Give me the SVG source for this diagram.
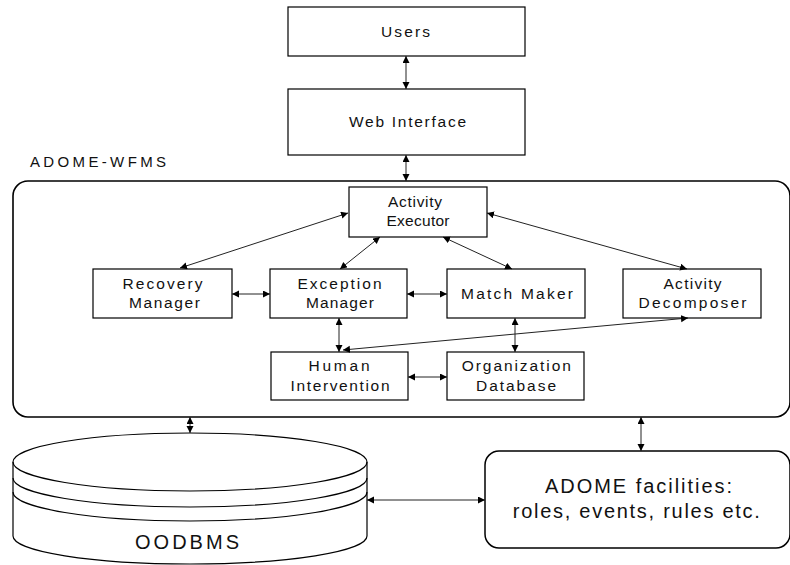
<svg xmlns="http://www.w3.org/2000/svg" width="790" height="565" viewBox="0 0 790 565">
  <style>
    .box { fill: #fff; stroke: #000; stroke-width: 1.2; }
    .frame { fill: none; stroke: #000; stroke-width: 1.6; }
    .lbl { font-family: "Liberation Sans", Arial, Helvetica, sans-serif; font-size: 15.5px; fill: #111; text-anchor: middle; }
    .big { font-size: 20px; }
    .conn { stroke: #222; stroke-width: 1; fill: none; marker-start: url(#head); marker-end: url(#head); }
  </style>
  <defs>
    <marker id="head" markerUnits="userSpaceOnUse" markerWidth="8" markerHeight="8" refX="7" refY="3.5" orient="auto-start-reverse">
      <path d="M0,0 L7,3.5 L0,7 z" fill="#000"/>
    </marker>
  </defs>

  <rect width="790" height="565" fill="#fff"/>

  <!-- workflow system container (right edge runs to the page border) -->
  <g id="adome-wfms">
    <rect class="frame" x="13" y="181" width="777" height="236" rx="15"/>
    <text class="lbl" style="text-anchor:start;font-size:15px" x="30" y="167" textLength="136" lengthAdjust="spacing">ADOME-WFMS</text>
  </g>

  <g id="users">
    <rect class="box" x="288" y="7" width="237" height="49"/>
    <text class="lbl" x="405.5" y="37" textLength="49" lengthAdjust="spacing">Users</text>
  </g>

  <g id="web-interface">
    <rect class="box" x="288" y="89" width="237" height="66"/>
    <text class="lbl" x="407.5" y="127" textLength="117" lengthAdjust="spacing">Web Interface</text>
  </g>

  <g id="activity-executor">
    <rect class="box" x="349" y="187" width="138" height="50"/>
    <text class="lbl" x="415" y="207" textLength="54" lengthAdjust="spacing">Activity</text>
    <text class="lbl" x="418" y="226" textLength="63" lengthAdjust="spacing">Executor</text>
  </g>

  <g id="recovery-manager">
    <rect class="box" x="93" y="269" width="139" height="49"/>
    <text class="lbl" x="162.5" y="289" textLength="80" lengthAdjust="spacing">Recovery</text>
    <text class="lbl" x="164.5" y="308" textLength="71" lengthAdjust="spacing">Manager</text>
  </g>

  <g id="exception-manager">
    <rect class="box" x="270" y="269" width="137" height="49"/>
    <text class="lbl" x="339.5" y="289" textLength="84" lengthAdjust="spacing">Exception</text>
    <text class="lbl" x="340" y="308" textLength="68" lengthAdjust="spacing">Manager</text>
  </g>

  <g id="match-maker">
    <rect class="box" x="447" y="269" width="138" height="49"/>
    <text class="lbl" x="517" y="299" textLength="112" lengthAdjust="spacing">Match Maker</text>
  </g>

  <g id="activity-decomposer">
    <rect class="box" x="623" y="269" width="138" height="49"/>
    <text class="lbl" x="692.5" y="289" textLength="58" lengthAdjust="spacing">Activity</text>
    <text class="lbl" x="692.5" y="308" textLength="108" lengthAdjust="spacing">Decomposer</text>
  </g>

  <g id="human-intervention">
    <rect class="box" x="271" y="352" width="137" height="48"/>
    <text class="lbl" x="339" y="371" textLength="61" lengthAdjust="spacing">Human</text>
    <text class="lbl" x="340" y="390.7" textLength="99" lengthAdjust="spacing">Intervention</text>
  </g>

  <g id="organization-database">
    <rect class="box" x="447" y="352" width="137" height="48"/>
    <text class="lbl" x="516.3" y="371" textLength="109" lengthAdjust="spacing">Organization</text>
    <text class="lbl" x="516" y="390.7" textLength="80" lengthAdjust="spacing">Database</text>
  </g>

  <!-- object-oriented database drawn as a stacked cylinder -->
  <g id="oodbms">
    <path class="box" d="M13,462 A177,29 0 0 1 367,462 L367,536 A177,28 0 0 1 13,536 Z"/>
    <path class="frame" style="stroke-width:1.2" d="M13,462 A177,29 0 0 0 367,462"/>
    <path class="frame" style="stroke-width:1.2" d="M13,478 A177,29 0 0 0 367,478"/>
    <path class="frame" style="stroke-width:1.2" d="M13,492 A177,29 0 0 0 367,492"/>
    <text class="lbl big" x="187" y="549.3" textLength="104" lengthAdjust="spacing">OODBMS</text>
  </g>

  <g id="adome-facilities">
    <rect class="box" style="stroke-width:1.5" x="485" y="451" width="305" height="97" rx="14"/>
    <text class="lbl big" x="638.5" y="492.7" textLength="187" lengthAdjust="spacing">ADOME facilities:</text>
    <text class="lbl big" x="636.3" y="518.3" textLength="247" lengthAdjust="spacing">roles, events, rules etc.</text>
  </g>

  <!-- two-way connectors -->
  <g id="connectors">
    <line class="conn" x1="406" y1="56" x2="406" y2="89"/>
    <line class="conn" x1="406" y1="155" x2="406" y2="181"/>
    <line class="conn" x1="348" y1="213" x2="180" y2="268"/>
    <line class="conn" x1="380" y1="237" x2="340" y2="269"/>
    <line class="conn" x1="443" y1="237" x2="512" y2="269"/>
    <line class="conn" x1="487" y1="213" x2="687" y2="269"/>
    <line class="conn" x1="232" y1="294" x2="270" y2="294"/>
    <line class="conn" x1="407" y1="294" x2="447" y2="294"/>
    <line class="conn" x1="339" y1="318" x2="339" y2="352"/>
    <line class="conn" x1="515" y1="318" x2="515" y2="352"/>
    <line class="conn" x1="688" y1="318" x2="343" y2="350"/>
    <line class="conn" x1="408" y1="377" x2="447" y2="377"/>
    <line class="conn" x1="190" y1="417" x2="190" y2="433"/>
    <line class="conn" x1="641" y1="417" x2="641" y2="451"/>
    <line class="conn" x1="367" y1="500" x2="485" y2="500"/>
  </g>
</svg>
